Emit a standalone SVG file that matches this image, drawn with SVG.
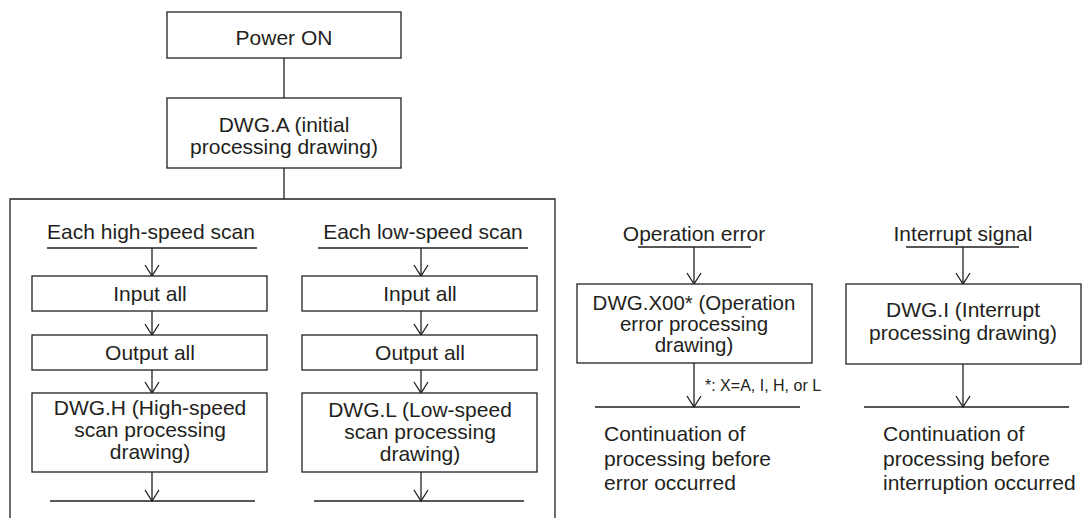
<svg xmlns="http://www.w3.org/2000/svg" width="1086" height="518" viewBox="0 0 1086 518">
<defs>
<style>
.box{fill:#fff;stroke:#231f20;stroke-width:1.3}
.ln{fill:none;stroke:#231f20;stroke-width:1.3}
.t{font-family:"Liberation Sans",Arial,sans-serif;font-size:21px;fill:#231f20;text-anchor:middle}
.tl{font-family:"Liberation Sans",Arial,sans-serif;font-size:21px;fill:#231f20;text-anchor:start}
.sm{font-family:"Liberation Sans",Arial,sans-serif;font-size:16px;fill:#231f20;text-anchor:start}
.tight{font-size:20.5px}
</style>
<marker id="arr" markerUnits="userSpaceOnUse" markerWidth="16" markerHeight="18" viewBox="-13 -9 16 18" refX="0" refY="0" orient="auto" overflow="visible">
<path d="M-11,-7 L0,0 L-11,7" fill="none" stroke="#231f20" stroke-width="1.3"/>
</marker>
</defs>

<g id="connectors">
<line class="ln" x1="284" y1="58" x2="284" y2="98"/>
<line class="ln" x1="284" y1="168" x2="284" y2="199"/>
<path id="frame" class="ln" d="M10,520 V199 H555 V520"/>
<line class="ln" x1="47" y1="248" x2="257" y2="248"/>
<line class="ln" x1="152" y1="248" x2="152" y2="276" marker-end="url(#arr)"/>
<line class="ln" x1="152" y1="311" x2="152" y2="335" marker-end="url(#arr)"/>
<line class="ln" x1="152" y1="370" x2="152" y2="393" marker-end="url(#arr)"/>
<line class="ln" x1="152" y1="472" x2="152" y2="501" marker-end="url(#arr)"/>
<line class="ln" x1="50" y1="501" x2="255" y2="501"/>
<line class="ln" x1="318" y1="248" x2="528" y2="248"/>
<line class="ln" x1="421" y1="248" x2="421" y2="276" marker-end="url(#arr)"/>
<line class="ln" x1="421" y1="311" x2="421" y2="335" marker-end="url(#arr)"/>
<line class="ln" x1="421" y1="370" x2="421" y2="393" marker-end="url(#arr)"/>
<line class="ln" x1="421" y1="472" x2="421" y2="501" marker-end="url(#arr)"/>
<line class="ln" x1="314" y1="501" x2="524" y2="501"/>
<line class="ln" x1="638" y1="247" x2="751" y2="247"/>
<line class="ln" x1="694" y1="247" x2="694" y2="284" marker-end="url(#arr)"/>
<line class="ln" x1="694" y1="363" x2="694" y2="407" marker-end="url(#arr)"/>
<line class="ln" x1="595" y1="407" x2="800" y2="407"/>
<line class="ln" x1="906" y1="247" x2="1019" y2="247"/>
<line class="ln" x1="963" y1="247" x2="963" y2="284" marker-end="url(#arr)"/>
<line class="ln" x1="963" y1="364" x2="963" y2="407" marker-end="url(#arr)"/>
<line class="ln" x1="864" y1="407" x2="1069" y2="407"/>
</g>

<g id="power-on">
<rect class="box" x="167" y="12" width="234" height="46"/>
<text class="t" x="284" y="45">Power ON</text>
</g>

<g id="dwg-a">
<rect class="box" x="167" y="98" width="234" height="70"/>
<text class="t" x="284" y="132">DWG.A (initial</text>
<text class="t" x="284" y="154">processing drawing)</text>
</g>

<g id="high-speed-label">
<text class="t" x="151" y="239">Each high-speed scan</text>
</g>
<g id="low-speed-label">
<text class="t" x="423" y="239">Each low-speed scan</text>
</g>

<g id="input-all-h">
<rect class="box" x="32" y="276" width="235" height="35"/>
<text class="t" x="150" y="301">Input all</text>
</g>
<g id="output-all-h">
<rect class="box" x="32" y="335" width="235" height="35"/>
<text class="t" x="150" y="360">Output all</text>
</g>
<g id="dwg-h">
<rect class="box" x="32" y="393" width="235" height="79"/>
<text class="t" x="150" y="415">DWG.H (High-speed</text>
<text class="t" x="150" y="437">scan processing</text>
<text class="t" x="150" y="459">drawing)</text>
</g>

<g id="input-all-l">
<rect class="box" x="302" y="276" width="235" height="35"/>
<text class="t" x="420" y="301">Input all</text>
</g>
<g id="output-all-l">
<rect class="box" x="302" y="335" width="235" height="35"/>
<text class="t" x="420" y="360">Output all</text>
</g>
<g id="dwg-l">
<rect class="box" x="302" y="393" width="235" height="79"/>
<text class="t" x="420" y="417">DWG.L (Low-speed</text>
<text class="t" x="420" y="439">scan processing</text>
<text class="t" x="420" y="461">drawing)</text>
</g>

<g id="operation-error">
<text class="t" x="694" y="241">Operation error</text>
</g>
<g id="dwg-x00">
<rect class="box" x="577" y="284" width="235" height="79"/>
<text class="t tight" x="694" y="310">DWG.X00* (Operation</text>
<text class="t tight" x="694" y="331">error processing</text>
<text class="t tight" x="694" y="352">drawing)</text>
</g>
<g id="note">
<text class="sm" x="705" y="391">*: X=A, I, H, or L</text>
</g>
<g id="continuation-error">
<text class="tl" x="604" y="441">Continuation of</text>
<text class="tl" x="604" y="466">processing before</text>
<text class="tl" x="604" y="490">error occurred</text>
</g>

<g id="interrupt-signal">
<text class="t" x="963" y="241">Interrupt signal</text>
</g>
<g id="dwg-i">
<rect class="box" x="846" y="284" width="235" height="80"/>
<text class="t" x="963" y="317">DWG.I (Interrupt</text>
<text class="t" x="963" y="340">processing drawing)</text>
</g>
<g id="continuation-interrupt">
<text class="tl" x="883" y="441">Continuation of</text>
<text class="tl" x="883" y="466">processing before</text>
<text class="tl" x="883" y="490">interruption occurred</text>
</g>
</svg>
